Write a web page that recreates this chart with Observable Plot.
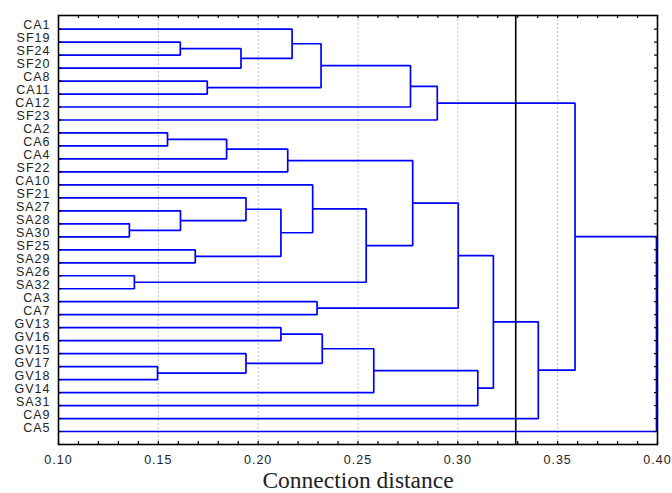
<!DOCTYPE html>
<html>
<head>
<meta charset="utf-8">
<script src="https://cdn.jsdelivr.net/npm/d3@7"></script>
<script src="https://cdn.jsdelivr.net/npm/@observablehq/plot@0.6"></script>
<style>
  html, body { margin: 0; padding: 0; background: #fff; }
  svg { display: block; }
</style>
</head>
<body>
<div id="chart"></div>
<script>
// Leaf labels, top to bottom
const leaves = ["CA1","SF19","SF24","SF20","CA8","CA11","CA12","SF23","CA2","CA6","CA4","SF22",
  "CA10","SF21","SA27","SA28","SA30","SF25","SA29","SA26","SA32","CA3","CA7",
  "GV13","GV16","GV15","GV17","GV18","GV14","SA31","CA9","CA5"];

// Agglomeration steps: node 32+k joins mergeA[k] and mergeB[k] at mergeHeight[k]
const mergeA      = [15, 19, 26, 8, 1, 14, 17, 4, 35, 36, 13, 25, 23, 42, 40, 0, 12, 21, 47, 44, 48, 51, 50, 46, 54, 55, 53, 57, 59, 56, 61];
const mergeB      = [16, 20, 27, 9, 2, 32, 18, 5, 10, 3, 37, 34, 24, 38, 11, 41, 45, 22, 39, 43, 33, 28, 6, 52, 7, 49, 29, 58, 30, 60, 31];
const mergeHeight = [0.1355, 0.138, 0.1496, 0.1546, 0.161, 0.1611, 0.1685, 0.1745, 0.1842, 0.1914, 0.1939, 0.1939,
  0.2114, 0.2114, 0.2148, 0.217, 0.2273, 0.2295, 0.2315, 0.2321, 0.2541, 0.2579, 0.2763, 0.2774,
  0.2897, 0.3002, 0.310, 0.3178, 0.3403, 0.3587, 0.3995];

const xDomain = [0.10, 0.40];
const majorTicks = [0.10, 0.15, 0.20, 0.25, 0.30, 0.35, 0.40];
const gridTicks = [0.15, 0.20, 0.25, 0.30, 0.35];
const minorTicks = d3.range(0, 31).map(i => +(0.10 + i * 0.01).toFixed(2));
const cutDistance = 0.329;
const xTitle = "Connection distance";

// Build dendrogram geometry
const nodes = leaves.map((name, i) => ({x: xDomain[0], y: i}));
const pts = [];
mergeA.forEach((a, k) => {
  const b = mergeB[k], h = mergeHeight[k];
  const na = nodes[a], nb = nodes[b];
  nodes.push({x: h, y: (na.y + nb.y) / 2});
  pts.push({id: k, x: na.x, y: na.y}, {id: k, x: h, y: na.y}, {id: k, x: h, y: nb.y}, {id: k, x: nb.x, y: nb.y});
});
const rows = leaves.map((d, i) => i);

const W = 672, H = 493, mL = 58, mR = 15, mT = 15, mB = 49;
const plotW = W - mL - mR, plotH = H - mT - mB;

const svg = Plot.plot({
  width: W, height: H,
  marginLeft: mL, marginRight: mR, marginTop: mT, marginBottom: mB,
  style: {fontFamily: "'Liberation Sans', Arial, sans-serif", color: "#222", background: "#fff", overflow: "visible"},
  x: {domain: xDomain, axis: null},
  y: {domain: [-1.05, 32], reverse: true, axis: null},
  marks: [
    Plot.ruleX(gridTicks, {stroke: "#bdbdbd", strokeWidth: 1, strokeDasharray: "2,2"}),
    Plot.line(pts, {x: "x", y: "y", z: "id", stroke: "#0000ff", strokeWidth: 1.7, strokeLinejoin: "miter", strokeLinecap: "butt"}),
    Plot.ruleX([cutDistance], {stroke: "#000", strokeWidth: 1.6}),
    // inward ticks
    Plot.tickX(minorTicks, {x: d => d, stroke: "#000", strokeWidth: 1.2, insetBottom: plotH - 3}),
    Plot.tickX(minorTicks, {x: d => d, stroke: "#000", strokeWidth: 1.2, insetTop: plotH - 3}),
    Plot.tickY(rows, {y: d => d, stroke: "#000", strokeWidth: 1.2, insetLeft: plotW - 3}),
    Plot.tickY(rows, {y: d => d, stroke: "#000", strokeWidth: 1.2, insetRight: plotW - 3}),
    Plot.frame({stroke: "#000", strokeWidth: 1.6}),
    Plot.axisX({anchor: "bottom", ticks: majorTicks, tickFormat: d3.format(".2f"), tickSize: 0, tickPadding: 11, fontSize: 12.5, label: null}),
    Plot.axisY({anchor: "left", ticks: rows, tickFormat: i => leaves[i], tickSize: 0, tickPadding: 8, fontSize: 12.5, lineAnchor: "bottom", label: null}),
    Plot.text([xTitle], {frameAnchor: "bottom", text: d => d, dy: 43, lineAnchor: "bottom", fontSize: 23.5,
      fontFamily: "'Liberation Serif', 'Times New Roman', serif", fill: "#222"})
  ]
});

d3.select(svg).selectAll('g[aria-label="x-axis tick label"] text')
  .style("letter-spacing", "1px");
d3.select(svg).selectAll('g[aria-label="y-axis tick label"] text')
  .style("letter-spacing", "1px");

document.getElementById("chart").appendChild(svg);
</script>
</body>
</html>
